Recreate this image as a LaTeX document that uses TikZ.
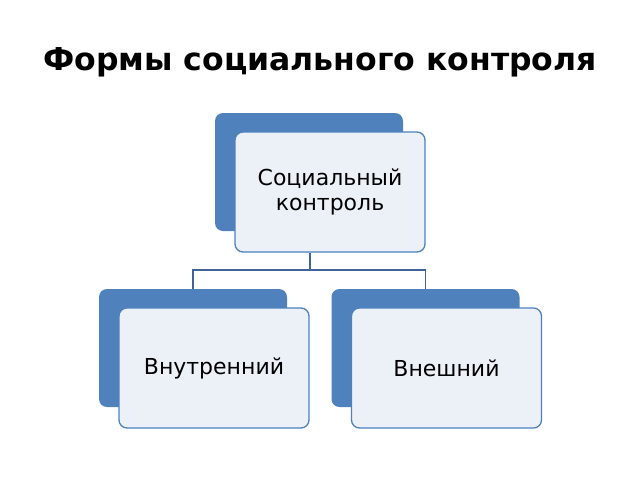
\documentclass[tikz,border=0pt]{standalone}
\usepackage{fontspec}
\setmainfont{DejaVu Sans}
\begin{document}
\begin{tikzpicture}[x=1pt,y=-1pt,
  darkbox/.style={fill={rgb,255:red,79;green,129;blue,189}, rounded corners=8pt, minimum width=188pt, minimum height=118pt, inner sep=0pt},
  lightbox/.style={draw={rgb,255:red,79;green,129;blue,189}, line width=1.3pt, fill={rgb,255:red,236;green,241;blue,248}, rounded corners=8pt, minimum width=190pt, minimum height=120pt, inner sep=0pt, font=\fontsize{22}{25}\selectfont, align=center},
  conn/.style={draw={rgb,255:red,65;green,100;blue,150}, line width=1.3pt}]
\useasboundingbox (0,0) rectangle (640,480);
\node[font=\bfseries\fontsize{31.5}{36}\selectfont] (title) at (320,62) {Формы социального контроля};
\node[darkbox] (td) at (309,172) {};
\node[lightbox] (t) at (330,192) {Социальный\\контроль};
\node[darkbox] (ld) at (193,348) {};
\node[lightbox] (l) at (214,368) {Внутренний};
\node[darkbox] (rd) at (425.5,348) {};
\node[lightbox] (r) at (446.5,368) {Внешний};
\coordinate (j) at (310,270);
\draw[conn] (t.south -| j) -- (j);
\draw[conn] (j) -| (ld.north);
\draw[conn] (j) -| (rd.north);
\end{tikzpicture}
\end{document}
